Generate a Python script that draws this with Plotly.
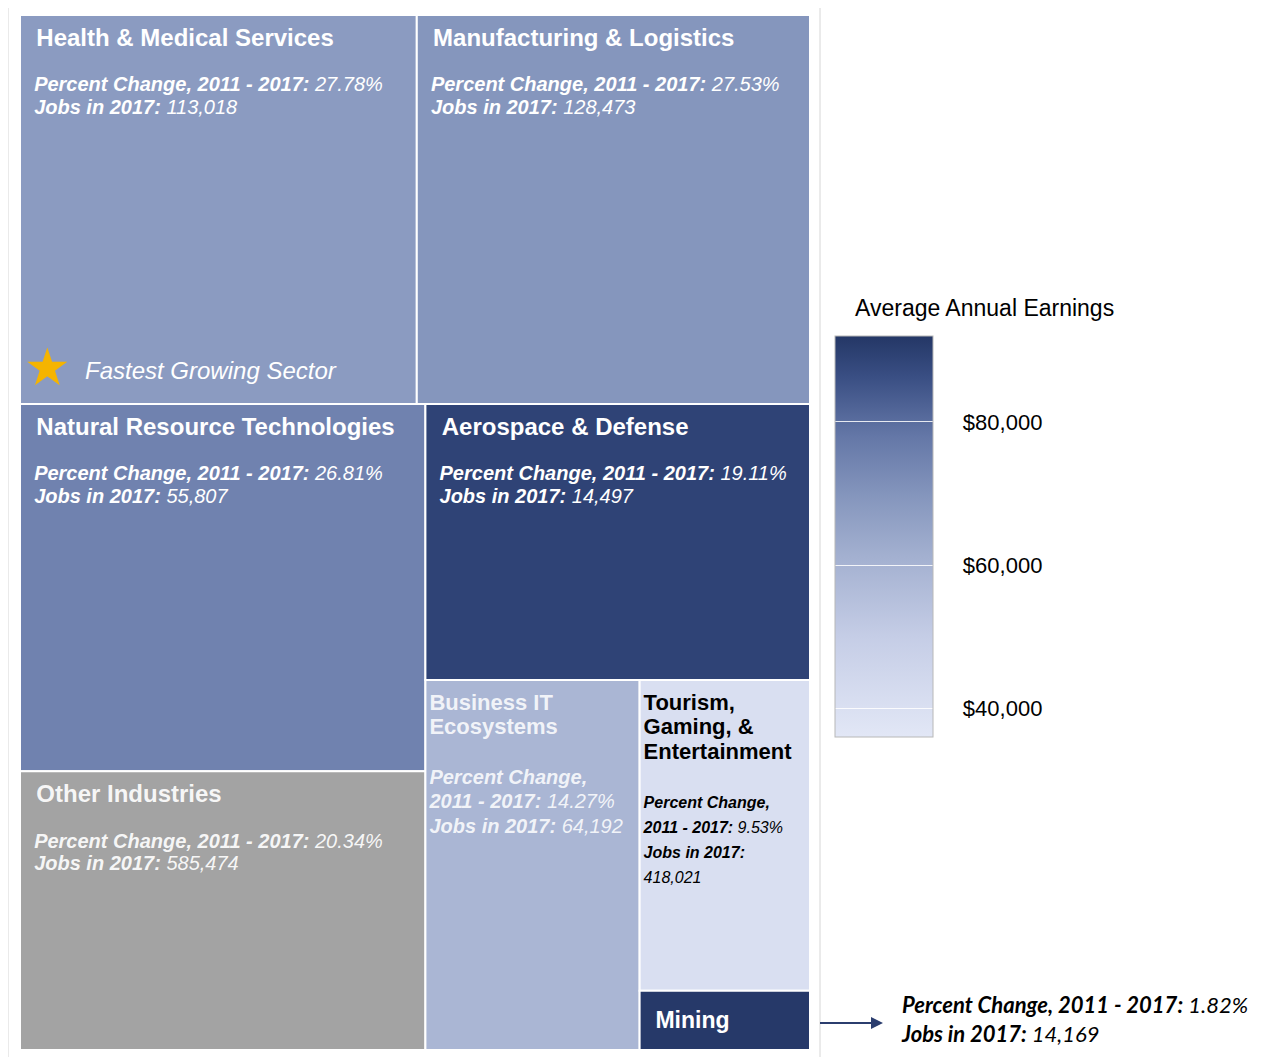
import plotly.graph_objects as go
from plotly.colors import sample_colorscale

# ---------------- data ----------------
sectors = [
    "Health & Medical Services",
    "Manufacturing & Logistics",
    "Natural Resource Technologies",
    "Aerospace & Defense",
    "Other Industries",
    "Business IT Ecosystems",
    "Tourism, Gaming, & Entertainment",
    "Mining",
]
pct_change = [27.78, 27.53, 26.81, 19.11, 20.34, 14.27, 9.53, 1.82]
jobs_2017 = [113018, 128473, 55807, 14497, 585474, 64192, 418021, 14169]
avg_earnings = [68000, 69600, 75000, 89000, None, 59000, 40500, 91500]  # estimated from colours

tick_values = [40000, 60000, 80000]
tick_labels = ["$40,000", "$60,000", "$80,000"]

# ---------------- styling ----------------
EARN_MIN, EARN_MAX = 36000, 92000
colorscale = [
    [0.0, "#e2e7f6"], [0.25, "#c5cde6"], [0.45, "#a3b0d0"], [0.6, "#8596bd"],
    [0.75, "#6477a7"], [0.9, "#394e83"], [1.0, "#243766"],
]
OTHER_GRAY = "#a3a3a3"
FONT = "Liberation Sans, Arial, sans-serif"

cell_colors = []
for e in avg_earnings:
    if e is None:
        cell_colors.append(OTHER_GRAY)
    else:
        t = (e - EARN_MIN) / (EARN_MAX - EARN_MIN)
        cell_colors.append(sample_colorscale(colorscale, [t])[0])

title_breaks = {
    "Business IT Ecosystems": "Business IT<br>Ecosystems",
    "Tourism, Gaming, & Entertainment": "Tourism,<br>Gaming, &<br>Entertainment",
}
NB = "\u00a0"


def lbl(s):
    return "<b><i>" + s + "</i></b>"


def val(s):
    return "<i>" + s + "</i>"


def spacer(px):
    # tiny first line used to push the label down from the cell's top edge
    return f'<span style="font-size:{px}px">{NB}</span><br>'


texts, sizes, tcolors = [], [], []
for name, p, j in zip(sectors, pct_change, jobs_2017):
    pstr = f"{p:.2f}%"
    jstr = f"{j:,}"
    if name == "Mining":
        t = spacer(12) + f'<span style="font-size:23px"><b>{NB}{NB}{name}</b></span>'
        texts.append(t); sizes.append(18); tcolors.append("white")
        continue
    if name == "Business IT Ecosystems":
        title = '<span style="font-size:22px"><b>' + title_breaks[name] + "</b></span>"
        body = ('<span style="font-size:20px">' + lbl("Percent Change,") + "<br>"
                + lbl("2011 - 2017:") + val(" " + pstr) + "<br>"
                + lbl("Jobs in 2017:") + val(" " + jstr) + "</span>")
        texts.append(spacer(2) + title + "<br><br>" + body); sizes.append(19)
        tcolors.append("rgba(255,255,255,0.86)")
        continue
    if name == "Tourism, Gaming, & Entertainment":
        title = '<span style="font-size:22px"><b>' + title_breaks[name] + "</b></span>"
        body = ('<span style="font-size:16px">' + lbl("Percent Change,") + "<br>"
                + lbl("2011 - 2017:") + val(" " + pstr) + "<br>"
                + lbl("Jobs in 2017:") + "<br>" + val(jstr) + "</span>")
        texts.append(spacer(2) + title + "<br><br>" + body); sizes.append(19)
        tcolors.append("black")
        continue
    title = f'<span style="font-size:24px"><b>{NB}{NB}{name}</b></span>'
    body = ('<span style="font-size:20px">' + NB + NB + lbl("Percent Change, 2011 - 2017:")
            + val(" " + pstr) + "<br>" + NB + NB + lbl("Jobs in 2017:") + val(" " + jstr) + "</span>")
    texts.append(spacer(6) + title + "<br><br>" + body); sizes.append(17.5)
    tcolors.append("white" if name != "Other Industries" else "rgba(255,255,255,0.92)")

# figure sits 8px in from the page corner (default body margin)
OFF = 8
W, H = 1257, 1049


def fx(xp):
    return (xp - OFF) / W


def fy(yp):
    return 1 - (yp - OFF) / H


ROOT = "All sectors"

fig = go.Figure()
fig.add_trace(go.Treemap(
    ids=[ROOT] + sectors,
    labels=[ROOT] + sectors,
    parents=[""] + [ROOT] * len(sectors),
    values=[0] + pct_change,
    branchvalues="remainder",
    text=[""] + texts,
    textinfo="text",
    textposition="top left",
    textfont=dict(family=FONT, size=[18] + sizes, color=["white"] + tcolors),
    marker=dict(colors=["white"] + cell_colors, line=dict(color="white", width=2),
                pad=dict(t=0, l=0, r=0, b=0)),
    tiling=dict(packing="squarify", squarifyratio=1, pad=0),
    pathbar=dict(visible=False),
    sort=True,
    hoverinfo="label+value",
    domain=dict(x=[fx(20), fx(810)], y=[fy(1050), fy(15)]),
))

# colour bar (legend for average annual earnings)
fig.add_trace(go.Scatter(
    x=[None], y=[None], mode="markers", showlegend=False, hoverinfo="skip",
    marker=dict(
        color=[EARN_MIN, EARN_MAX], cmin=EARN_MIN, cmax=EARN_MAX,
        colorscale=colorscale, showscale=True,
        colorbar=dict(
            x=fx(835), xanchor="left", xpad=0, ypad=0,
            y=fy(536.5), yanchor="middle",
            len=401, lenmode="pixels", thickness=98, thicknessmode="pixels",
            outlinecolor="#b8b8b8", outlinewidth=1,
            tickvals=tick_values, ticktext=[NB * 4 + s for s in tick_labels],
            ticks="inside", ticklen=98, tickcolor="rgba(255,255,255,0.85)", tickwidth=1,
            tickfont=dict(family=FONT, size=22, color="black"),
            title=dict(text=""),
        ),
    ),
))

annotations = [
    dict(text="Average Annual Earnings", x=fx(853), y=fy(308), xref="paper", yref="paper",
         xanchor="left", yanchor="middle", showarrow=False,
         font=dict(family=FONT, size=23, color="black")),
    dict(text="★", x=fx(47), y=fy(367), xref="paper", yref="paper",
         xanchor="center", yanchor="middle", showarrow=False,
         font=dict(family="DejaVu Sans", size=52, color="#f5b400")),
    dict(text="<i>Fastest Growing Sector</i>", x=fx(83), y=fy(370), xref="paper", yref="paper",
         xanchor="left", yanchor="middle", showarrow=False,
         font=dict(family=FONT, size=24, color="white")),
    dict(text=" ", x=fx(883), y=fy(1023), xref="paper", yref="paper",
         showarrow=True, ax=-66, ay=0, axref="pixel", ayref="pixel",
         arrowhead=2, arrowsize=1.2, arrowwidth=2, arrowcolor="#2b3d6e"),
    dict(text=(lbl("Percent Change, 2011 - 2017:") + val(f" {pct_change[7]:.2f}%") + "<br>"
               + lbl("Jobs in 2017:") + val(f" {jobs_2017[7]:,}")),
         x=fx(899), y=fy(1019), xref="paper", yref="paper",
         xanchor="left", yanchor="middle", align="left", showarrow=False,
         font=dict(family="Lato, Open Sans, sans-serif", size=22, color="black")),
]

fig.update_layout(
    width=W, height=H,
    margin=dict(l=0, r=0, t=0, b=0),
    paper_bgcolor="white", plot_bgcolor="rgba(0,0,0,0)",
    xaxis=dict(visible=False), yaxis=dict(visible=False),
    annotations=annotations,
    shapes=[dict(type="rect", xref="paper", yref="paper",
                 x0=fx(8), x1=fx(820), y0=-0.01, y1=fy(3),
                 line=dict(color="#d6d6d6", width=1), fillcolor="rgba(0,0,0,0)",
                 layer="below")],
    showlegend=False,
)

fig.write_html("out.html")
